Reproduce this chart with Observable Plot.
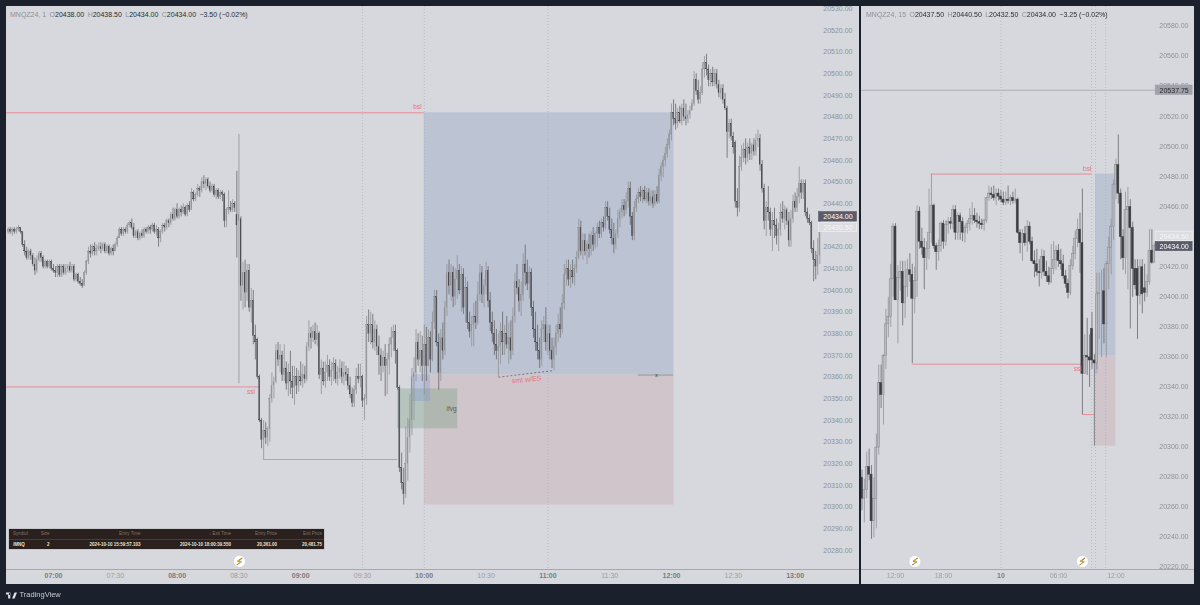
<!DOCTYPE html>
<html><head><meta charset="utf-8">
<script src="https://cdn.jsdelivr.net/npm/d3@7"></script>
<script src="https://cdn.jsdelivr.net/npm/@observablehq/plot@0.6"></script>
<style>
html,body{margin:0;padding:0;width:1200px;height:605px;overflow:hidden;background:#1b202d;font-family:"Liberation Sans",Arial,sans-serif}
#stage{position:relative;width:1200px;height:605px;filter:blur(.35px)}
.panel{position:absolute;top:6px;height:578px;background:#d6d8dd}
.panel svg{display:block;background:#d6d8dd;overflow:hidden}
.hdr{position:absolute;top:10.5px;font-size:7px;line-height:8px;white-space:nowrap;color:#2c2d33}
.hdr span{margin-right:3.4px}
.hdr i{font-style:normal;color:#8e9099}
#tbl{position:absolute;left:9px;top:529px;width:315px;height:20px;background:#2a201d;box-shadow:0 0 0 .5px #b5b5b8;font-size:4.5px;font-weight:bold;line-height:10px}
#tbl div{display:grid;grid-template-columns:17px 19.5px 91px 90.5px 46px 45px;padding-left:4px;height:10px}
#tbl .h{color:#85756a;font-weight:normal;border-bottom:.5px solid #4a3c36;height:9.5px}
#tbl .r{color:#ece0cc}
#tbl span{text-align:right}#tbl span:first-child{text-align:left}
#foot{position:absolute;left:6px;top:590px;font-size:7.5px;line-height:10px;color:#c9cbd1;display:flex;align-items:center;gap:2.5px}
</style></head><body>
<div id="stage">
<div class="panel" id="left" style="left:6px;width:853px"></div>
<div class="panel" id="right" style="left:861px;width:333px"></div>
<div class="hdr" id="h1" style="left:10px"></div>
<div class="hdr" id="h2" style="left:866px"></div>
<div id="tbl"></div>
<div id="foot"><svg width="11" height="7" viewBox="0 0 36 20"><path d="M0 0h14v20H7V7H0zM30 0h6l-8 20h-8l8-20zM16 5a3.5 3.5 0 1 0 0 .1z" fill="#dfe1e6"/></svg><span>TradingView</span></div>
</div>
<script>
const priceBase = 20000;
// one-minute bars, [open, high, low, close] above priceBase
const m0638 = [[427,429,426,428],[428,429,426,427],[427,429,425,428],[428,429,426,427],[427,429,426,428],[428,430,427,429],[429,429,426,427],[427,427,420,421],[421,423,416,418],[418,420,414,415],[415,419,414,418],[418,419,414,416],[416,417,411,412],[412,415,407,409],[409,416,408,414],[414,418,413,417],[417,418,413,415],[415,416,410,411],[411,414,410,413],[413,414,410,411],[411,414,410,413],[413,414,409,410]];
const m0700 = [[410,412,408,409],[409,411,406,408],[408,412,406,411],[411,412,406,407],[407,412,406,411],[411,412,407,408],[408,412,407,410],[410,412,408,411],[411,413,408,409],[409,412,408,411],[411,412,404,405],[405,408,404,407],[407,408,403,404],[404,406,402,403],[403,405,401,402],[402,409,402,408],[408,414,407,413],[413,420,412,418],[418,421,415,417],[417,421,416,420],[420,422,416,418],[418,421,416,419],[419,422,418,420],[420,422,417,419],[419,422,418,421],[421,422,417,418],[418,421,417,420],[420,421,416,417],[417,420,416,419],[419,421,416,418]];
const m0730 = [[418,422,418,421],[421,425,420,424],[424,429,424,428],[428,429,425,426],[426,429,425,428],[428,429,426,427],[427,431,426,430],[430,432,429,431],[431,433,428,429],[429,431,424,425],[425,428,424,427],[427,428,423,424],[424,427,423,426],[426,428,424,425],[425,429,424,428],[428,429,426,427],[427,430,426,429],[429,430,426,428],[428,431,427,430],[430,431,426,427],[427,430,425,428],[428,429,420,424],[424,428,422,427],[427,431,426,430],[430,431,427,429],[429,433,428,432],[432,433,429,431],[431,436,430,435],[435,438,432,433],[433,438,432,437]];
const m0800 = [[437,440,433,434],[434,438,433,437],[437,439,434,436],[436,440,435,438],[438,439,434,435],[435,440,434,439],[439,441,436,437],[437,447,437,445],[445,446,441,442],[442,445,441,444],[444,449,443,447],[447,448,443,446],[446,452,445,450],[450,453,447,449],[449,452,446,451],[451,452,447,448],[448,450,445,446],[446,449,445,448],[448,449,443,444],[444,447,442,446],[446,447,442,443],[443,446,442,445],[445,446,441,444],[444,445,429,432],[432,438,429,437],[437,446,435,438],[438,441,436,437],[437,442,436,440],[440,441,436,438],[435,455,415,430]];
const m0830 = [[432,472,357,435],[433,434,395,402],[402,413,391,408],[408,414,392,399],[399,412,395,409],[409,412,390,392],[392,401,385,395],[395,400,375,379],[379,384,368,376],[377,378,359,360],[360,361,339,340],[340,341,327,331],[331,340,322,335],[335,339,329,332],[332,337,328,336],[336,352,330,350],[350,362,348,356],[356,360,350,358],[358,375,357,372],[372,376,365,368],[368,375,362,370],[370,372,358,361],[361,375,358,364],[364,367,354,357],[357,366,351,362],[362,372,352,358],[358,365,350,355],[355,365,347,360],[360,364,352,356],[356,363,353,360]];
const m0900 = [[360,367,356,358],[358,366,355,361],[361,365,357,359],[359,376,358,374],[374,386,372,380],[380,383,373,378],[378,384,376,381],[381,385,375,377],[377,384,374,380],[380,381,359,361],[361,368,352,364],[364,367,356,358],[358,367,355,362],[362,370,358,365],[365,368,358,360],[360,367,356,363],[363,369,358,366],[366,368,357,359],[359,365,356,362],[362,368,359,364],[364,367,357,360],[360,367,356,362],[362,365,358,361],[361,364,354,356],[356,360,350,352],[352,355,346,348],[348,356,346,354],[354,364,352,360],[360,366,357,359],[359,366,355,360]];
const m0930 = [[360,361,346,349],[349,352,340,350],[350,388,347,384],[384,391,376,380],[380,390,375,384],[384,389,373,376],[376,386,372,382],[382,384,370,374],[374,379,361,370],[370,373,358,365],[365,372,362,369],[369,375,351,365],[365,371,352,368],[368,378,361,375],[375,383,369,378],[378,384,372,381],[381,384,366,372],[372,373,354,355],[355,356,316,318],[318,325,308,311],[311,318,301,306],[306,337,304,320],[320,341,312,332],[332,352,325,340],[340,364,333,360],[360,369,340,362],[362,382,358,376],[376,380,365,368],[368,381,362,372],[372,379,358,365]];
const m1000 = [[365,384,352,375],[375,383,358,365],[365,382,365,378],[378,381,362,368],[368,390,367,385],[385,400,382,397],[397,400,374,376],[376,380,354,362],[362,382,358,378],[378,385,368,372],[372,395,370,392],[392,412,388,408],[408,414,398,402],[402,412,395,408],[408,411,392,397],[397,410,393,405],[405,416,396,409],[409,412,398,400],[400,411,390,407],[407,410,389,392],[392,406,385,401],[401,404,382,385],[385,390,378,381],[381,388,374,384],[384,394,374,388],[388,395,382,385],[385,404,384,398],[398,412,395,408],[408,411,394,398],[398,405,392,402]];
const m1030 = [[402,413,398,409],[409,411,392,395],[395,399,381,385],[385,390,376,380],[380,386,370,375],[375,382,368,372],[372,380,360,374],[374,385,366,381],[381,390,370,376],[376,384,370,380],[380,388,373,375],[375,385,366,378],[378,386,368,372],[372,392,370,388],[388,408,385,404],[404,412,398,401],[401,405,390,395],[395,404,388,398],[398,417,395,412],[412,421,402,408],[408,414,400,403],[403,411,396,408],[408,410,388,392],[392,395,378,382],[382,390,372,376],[376,384,368,372],[372,378,364,368],[368,386,365,382],[382,388,376,384],[384,392,372,376]];
const m1100 = [[376,384,370,380],[380,384,368,372],[372,378,364,368],[368,378,363,374],[374,384,370,380],[380,389,376,384],[384,392,378,382],[382,398,380,394],[394,412,391,407],[407,414,402,410],[410,414,402,405],[405,412,401,409],[409,414,403,406],[406,412,402,410],[410,418,408,415],[415,433,414,429],[429,432,416,418],[418,426,414,423],[423,426,416,418],[418,423,412,421],[421,426,415,419],[419,427,416,425],[425,429,418,421],[421,427,419,426],[426,431,420,429],[429,432,424,426],[426,433,424,431],[431,434,427,429],[429,441,428,438],[438,441,432,434]];
const m1130 = [[434,438,426,428],[428,433,421,424],[424,431,417,421],[421,428,419,426],[426,437,424,433],[433,438,429,436],[436,442,433,439],[439,442,434,437],[437,445,435,441],[441,450,438,447],[447,450,430,434],[434,436,423,425],[425,441,423,438],[438,444,436,442],[442,447,440,445],[445,448,441,443],[443,447,440,446],[446,448,441,442],[442,447,440,445],[445,447,439,441],[441,446,439,443],[443,446,438,440],[440,446,439,444],[444,448,440,441],[441,456,440,453],[453,459,450,457],[457,462,452,460],[460,466,457,463],[463,470,461,467],[467,474,465,472]];
const m1200 = [[472,486,469,482],[482,488,476,479],[479,486,474,477],[477,484,475,482],[482,485,477,478],[478,486,476,484],[484,488,478,480],[480,486,476,479],[479,483,477,481],[481,485,479,483],[483,488,483,486],[486,501,485,497],[497,500,490,492],[492,497,486,488],[488,494,486,491],[491,505,490,502],[502,508,498,505],[505,509,499,502],[502,504,494,497],[497,502,494,500],[500,503,494,496],[496,502,494,500],[500,502,493,495],[495,497,489,491],[491,495,488,493],[493,495,486,488],[488,491,483,484],[484,485,461,473],[473,479,470,477],[477,479,469,471]];
const m1230 = [[471,473,463,466],[468,469,438,441],[441,447,434,438],[438,462,436,457],[457,467,455,461],[461,468,459,465],[465,470,458,461],[461,468,459,466],[466,470,460,463],[463,468,460,467],[467,470,462,464],[464,472,462,469],[469,474,466,470],[470,472,455,458],[458,460,445,447],[447,449,428,432],[432,441,425,438],[438,448,432,436],[436,438,425,428],[428,436,418,432],[432,438,424,430],[430,433,421,425],[425,431,418,428],[428,440,425,436],[436,441,431,433],[433,439,428,437],[437,438,430,432],[432,436,420,423],[423,437,420,433],[433,444,431,441]];
const m1300 = [[441,445,436,438],[438,447,436,443],[443,457,440,449],[449,451,442,445],[445,451,442,449],[449,451,434,436],[436,438,431,433],[433,435,430,431],[431,432,417,419],[419,423,404,414],[414,418,405,411],[411,424,407,416],[416,435,412,434]];
// fifteen-minute bars
const q0 = [[280,285,258,266],[266,279,250,272],[272,297,266,287],[287,299,278,282],[282,288,239,251],[251,280,240,266],[266,309,246,300],[300,355,295,343],[343,355,326,335],[335,362,315,361],[361,392,352,382],[382,400,373,387],[387,422,380,412],[412,449,400,447],[447,449,398,398],[398,421,369,413],[413,424,404,417],[417,424,381,396],[396,424,386,407],[407,425,400,418],[418,429,410,415],[415,422,356,399],[399,420,389,411],[411,461,400,457],[457,460,432,437],[437,446,428,433],[433,439,405,426],[426,437,418,432],[432,472,425,443],[443,482,436,461]];
const q1 = [[461,462,432,434],[434,436,418,430],[430,438,424,434],[434,450,430,449],[449,451,432,437],[437,451,434,448],[448,453,442,450],[450,453,445,449],[449,461,445,458],[458,461,438,443],[443,456,438,454],[454,456,438,450],[450,453,437,443],[443,448,436,446],[446,451,442,449],[449,459,444,452],[452,463,448,454],[454,459,449,451],[451,456,446,450],[450,454,445,449],[449,452,445,448],[448,452,444,451],[451,466,449,466],[466,474,464,469],[469,473,465,468],[468,474,464,466],[466,472,461,469],[469,472,464,467],[467,471,463,465],[465,470,461,463]];
const q2 = [[463,470,461,465],[465,474,462,464],[464,468,461,466],[466,470,462,464],[464,472,462,465],[465,466,442,443],[443,445,429,436],[436,445,424,442],[442,447,434,436],[436,451,430,447],[447,450,435,437],[437,440,423,424],[424,431,413,422],[422,432,414,417],[417,425,407,416],[416,432,412,427],[427,431,414,417],[417,424,410,414],[414,420,408,410],[410,435,409,419],[419,437,415,425],[425,434,418,431],[431,435,420,424],[424,432,418,422],[422,428,412,414],[414,418,406,409],[409,412,399,403],[403,425,401,421],[421,434,418,429],[429,444,425,439]];
const q3 = [[439,452,433,445],[445,456,416,436],[436,472,322,349],[349,375,349,361],[361,386,348,360],[360,375,340,358],[379,390,352,358],[358,362,301,356],[356,416,352,402],[402,416,372,403],[403,418,360,403],[404,419,369,382],[382,424,360,422],[422,440,405,433],[433,452,415,447],[447,478,438,475],[475,492,465,488],[488,508,462,469],[469,472,425,440],[440,445,418,426],[426,470,415,458],[458,473,405,460],[460,465,379,446],[446,450,400,419],[419,425,405,408],[419,425,372,401],[401,425,395,420],[420,425,389,402],[406,422,397,403],[403,415,400,410],[410,445,408,431],[431,445,422,423],[423,436,423,434]];

const yTicksLeft = d3.range(20280, 20531, 10).filter(d => d !== 20430);
const yTicksRight = d3.range(20220, 20581, 20).filter(d => d !== 20440);
const timeTicks = [[420,"07:00",1],[450,"07:30",0],[480,"08:00",1],[510,"08:30",0],[540,"09:00",1],[570,"09:30",0],[600,"10:00",1],[630,"10:30",0],[660,"11:00",1],[690,"11:30",0],[720,"12:00",1],[750,"12:30",0],[780,"13:00",1]];
const barTicks = [[14,"12:00",0],[34,"18:00",0],[58,"10",1],[82,"06:00",0],[106,"12:00",0]];
const firstMinute = 398;
const bsl = 20482, entry = 20361, stop = 20301, ssl = 20355.5, swingLow = 20322, prior = 20537.75;
const leftMarks = {dotted:[570,600,660], sessionEnd:791.4, axisEnd:810, tradeStart:600, tradeEnd:721.2};
const rightMarks = {dotted:[58,95.85,97.5,101.7], tradeStart:97.5, tradeEnd:106, tagStart:122.6, tagEnd:138};
const headerLeft = [["MNQZ24, 1",""],["O","20438.00"],["H","20438.50"],["L","20434.00"],["C","20434.00"],["","−3.50 (−0.02%)"]];
const headerRight = [["MNQZ24, 15",""],["O","20437.50"],["H","20440.50"],["L","20432.50"],["C","20434.00"],["","−3.25 (−0.02%)"]];
const tableHead = ["Symbol","Size","Entry Time","↓  Exit Time","Entry Price","Exit Price"];
const tableRow = ["/MNQ","2","2024-10-10 15:59:57.103","2024-10-10 18:00:39.550","20,361.00","20,481.75"];

const toBar = (r,i,t0) => ({t:t0+i,o:priceBase+r[0],h:priceBase+r[1],l:priceBase+r[2],c:priceBase+r[3]});
const mBars = [...m0638,...m0700,...m0730,...m0800,...m0830,...m0900,...m0930,...m1000,...m1030,...m1100,...m1130,...m1200,...m1230,...m1300].map((r,i)=>toBar(r,i,firstMinute));
const qBars = [...q0,...q1,...q2,...q3].map((r,i)=>toBar(r,i,0));

const PINK="#e58e99", RED="#e8727f", UPW="#919296", DNW="#66676c", DN="#3e3f44";
function candles(bars,half,upFill,upStroke,sw){
  const up=bars.filter(b=>b.c>=b.o), dn=bars.filter(b=>b.c<b.o);
  return [
    Plot.ruleX(up,{x:"t",y1:"l",y2:"h",stroke:UPW,strokeWidth:.8}),
    Plot.ruleX(dn,{x:"t",y1:"l",y2:"h",stroke:DNW,strokeWidth:.8}),
    Plot.rect(up,{x1:d=>d.t-half,x2:d=>d.t+half,y1:"o",y2:"c",fill:upFill,stroke:upStroke,strokeWidth:sw}),
    Plot.rect(dn,{x1:d=>d.t-half,x2:d=>d.t+half,y1:"o",y2:"c",fill:DN,stroke:DN,strokeWidth:sw})
  ];
}
function timeAxes(ticks){
  const fmt=d=>ticks.find(t=>t[0]===d)[1];
  return [
    Plot.axisX(ticks.filter(t=>!t[2]).map(t=>t[0]),{anchor:"bottom",tickSize:0,tickPadding:4,tickFormat:fmt,label:null,fill:"#9b9da5",fontSize:7}),
    Plot.axisX(ticks.filter(t=>t[2]).map(t=>t[0]),{anchor:"bottom",tickSize:0,tickPadding:4,tickFormat:fmt,label:null,fill:"#797b84",fontWeight:"bold",fontSize:7})
  ];
}
function priceAxis(ticks,pad,dy){
  return Plot.axisY(ticks,{anchor:"right",tickSize:0,tickPadding:pad,textAnchor:"end",dy,tickFormat:d=>d.toFixed(2),label:null,fill:"#8f919a",fontSize:7});
}
function tag(price,y,x1,x2,half,fill,stroke,text){
  const d=[{y}];
  return [
    Plot.rect(d,{x1:()=>x1,x2:()=>x2,y1:()=>y-half,y2:()=>y+half,fill,stroke,strokeWidth:.6}),
    Plot.text(d,{x:()=>(x1+x2)/2,y:"y",text:()=>price.toFixed(2),fill:text,fontSize:7})
  ];
}
function bolt(x,y){
  const d=[{x,y}];
  return [
    Plot.dot(d,{x:"x",y:"y",r:6,fill:"#fff",stroke:"#c9cbd0",strokeWidth:.6}),
    Plot.text(d,{x:"x",y:"y",text:()=>"⚡",fill:"#e8a915",stroke:"#4a3a10",strokeWidth:.4,fontSize:10,fontFamily:"DejaVu Sans"})
  ];
}
const base={marginTop:0,marginLeft:0,marginRight:0,marginBottom:15,height:578,style:{fontFamily:"Liberation Sans",fontSize:"7px",background:"#d6d8dd"}};
const one=v=>[{v}];
const L=leftMarks;
const leftPlot=Plot.plot({...base,width:853,
  x:{type:"linear",domain:[397.18,811.26],range:[0,853],axis:null},
  y:{type:"linear",domain:[20271.25,20531.06],axis:null},
  marks:[
    Plot.rect(one(),{x1:()=>L.tradeStart,x2:()=>L.tradeEnd,y1:()=>entry,y2:()=>bsl,fill:"#bcc3d2"}),
    Plot.rect(one(),{x1:()=>L.tradeStart,x2:()=>L.tradeEnd,y1:()=>stop,y2:()=>entry,fill:"#cfc5ca"}),
    Plot.rect(one(),{x1:()=>587,x2:()=>616.2,y1:()=>20336.2,y2:()=>20354.6,fill:"#6f9a78",fillOpacity:.32}),
    Plot.rect(one(),{x1:()=>594.4,x2:()=>603,y1:()=>20348.8,y2:()=>20361.1,fill:"#5f7fe0",fillOpacity:.22}),
    Plot.ruleX(L.dotted,{stroke:"#aeb0b6",strokeWidth:.7,strokeDasharray:"1,2"}),
    Plot.ruleY([bsl],{x1:397.18,x2:600,stroke:PINK,strokeWidth:1}),
    Plot.ruleY([ssl],{x1:397.18,x2:520.5,stroke:PINK,strokeWidth:1}),
    Plot.ruleY([swingLow],{x1:522,x2:587,stroke:PINK,strokeWidth:1.1}),
    Plot.ruleY([entry],{x1:703.9,x2:721,stroke:"#85878e",strokeWidth:.8}),
    Plot.link(one(),{x1:()=>636,y1:()=>20360,x2:()=>662.4,y2:()=>20363,stroke:"#55565c",strokeWidth:.7,strokeDasharray:"2,2"}),
    ...candles(mBars,.2,"#8f9094","#8f9094",.2),
    Plot.text(one(),{x:()=>596.7,y:()=>bsl,dy:-6,text:()=>"bsl",fill:RED,fontSize:6.5}),
    Plot.text(one(),{x:()=>515.9,y:()=>ssl,dy:5,text:()=>"ssl",fill:RED,fontSize:6.5}),
    Plot.text(one(),{x:()=>613.2,y:()=>20345.5,text:()=>"ifvg",fill:"#5c5e62",fontSize:6.5}),
    Plot.text(one(),{x:()=>649.6,y:()=>20358.9,text:()=>"smt w/ES",fill:RED,fontSize:7,rotate:-6}),
    Plot.text(one(),{x:()=>712.7,y:()=>entry,text:()=>"x",fill:"#3b3c42",fontSize:6}),
    priceAxis(yTicksLeft,-7,0),
    ...tag(20430.50,20429.1,L.sessionEnd+.2,L.axisEnd,2.2,"#dcdde1","#f3f4f6","#f7f7f9"),
    ...tag(20434.00,20434,L.sessionEnd+.2,L.axisEnd,2.2,"#5a5c69","#5a5c69","#ffffff"),
    ...bolt(510.3,20275),
    Plot.ruleY([20271.25],{stroke:"#a6a8ae",strokeWidth:1}),
    ...timeAxes(timeTicks)
  ]});
document.getElementById("left").append(leftPlot);

const R=rightMarks;
const rightPlot=Plot.plot({...base,width:333,
  x:{type:"linear",domain:[-0.19,138.79],range:[0,333],axis:null},
  y:{type:"linear",domain:[20218.9,20593.5],axis:null},
  marks:[
    Plot.rect(one(),{x1:()=>R.tradeStart,x2:()=>R.tradeEnd,y1:()=>entry,y2:()=>bsl,fill:"#bcc3d2"}),
    Plot.rect(one(),{x1:()=>R.tradeStart,x2:()=>R.tradeEnd,y1:()=>stop,y2:()=>entry,fill:"#cfc5ca"}),
    Plot.rect(one(),{x1:()=>97.5,x2:()=>98.6,y1:()=>20349,y2:()=>20361,fill:"#5f7fe0",fillOpacity:.25}),
    Plot.ruleX(R.dotted,{stroke:"#aeb0b6",strokeWidth:.7,strokeDasharray:"1,2"}),
    Plot.ruleY([prior],{x1:-0.19,x2:R.tagStart,stroke:"#aeb0b6",strokeWidth:1}),
    Plot.ruleY([bsl],{x1:29,x2:96,stroke:PINK,strokeWidth:1}),
    Plot.ruleY([ssl],{x1:21,x2:92,stroke:PINK,strokeWidth:1}),
    Plot.ruleY([swingLow],{x1:92,x2:97,stroke:PINK,strokeWidth:1}),
    ...candles(qBars,.42,"#b9babe","#85868b",.5),
    Plot.text(one(),{x:()=>94,y:()=>bsl,dy:-5.5,text:()=>"bsl",fill:RED,fontSize:6.5}),
    Plot.text(one(),{x:()=>90,y:()=>ssl,dy:5,text:()=>"ssl",fill:RED,fontSize:6.5}),
    priceAxis(yTicksRight,-6,-0.7),
    ...tag(prior,prior,R.tagStart,R.tagEnd,3.2,"#a0a2aa","#a0a2aa","#26272c"),
    ...tag(20434.50,20440.6,R.tagStart,R.tagEnd,3.1,"#dcdde1","#f3f4f6","#f7f7f9"),
    ...tag(20434.00,20433.8,R.tagStart,R.tagEnd,3.1,"#5a5c69","#5a5c69","#ffffff"),
    ...bolt(22.1,20224.2),
    ...bolt(92,20224.2),
    Plot.ruleY([20218.9],{stroke:"#a6a8ae",strokeWidth:1}),
    ...timeAxes(barTicks)
  ]});
document.getElementById("right").append(rightPlot);

const hdr=a=>a.map(([k,v])=>v===""?`<span><i>${k}</i></span>`:`<span><i>${k}</i>${v}</span>`).join("");
document.getElementById("h1").innerHTML=hdr(headerLeft);
document.getElementById("h2").innerHTML=hdr(headerRight);
const row=(a,c)=>`<div class="${c}">${a.map(s=>`<span>${s}</span>`).join("")}</div>`;
document.getElementById("tbl").innerHTML=row(tableHead,"h")+row(tableRow,"r");
</script>
</body></html>
